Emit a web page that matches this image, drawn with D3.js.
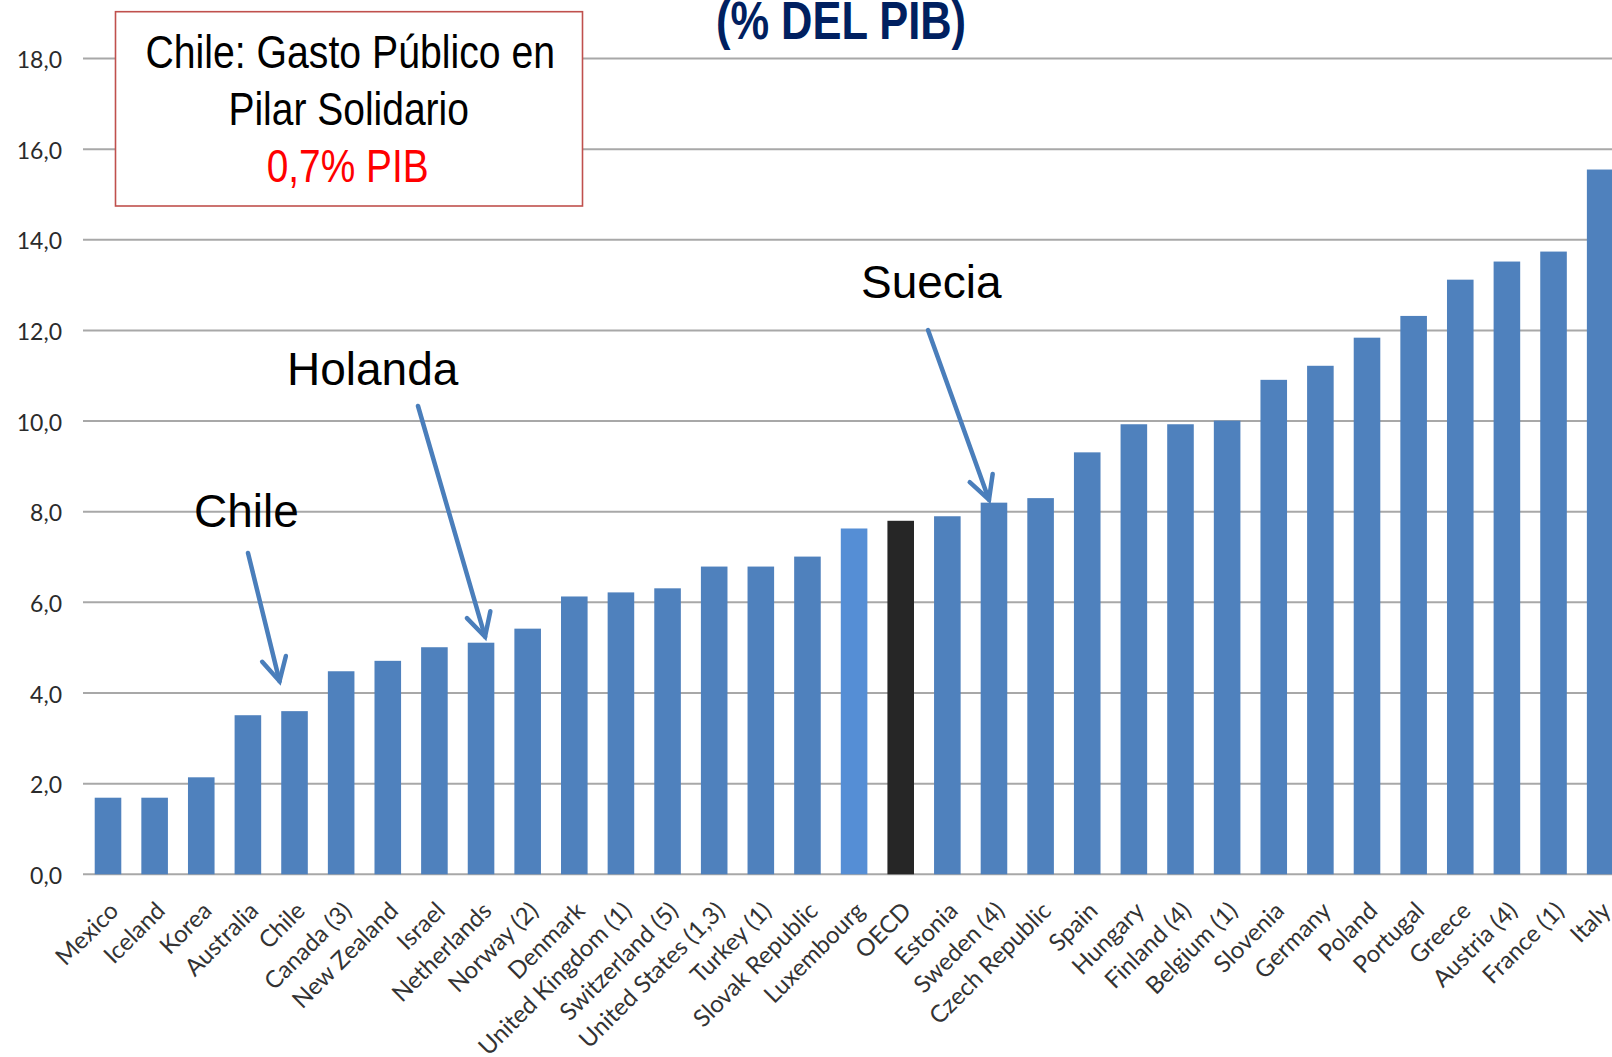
<!DOCTYPE html>
<html>
<head>
<meta charset="utf-8">
<script src="https://cdn.jsdelivr.net/npm/d3@7"></script>
<style>
  html, body { margin: 0; padding: 0; background: #ffffff; overflow: hidden; }
  svg { display: block; }
</style>
</head>
<body>
<svg id="chart" width="1612" height="1057"></svg>
<script>
// ---------------- DATA ----------------
const categories = [
  "Mexico", "Iceland", "Korea", "Australia", "Chile", "Canada (3)", "New Zealand",
  "Israel", "Netherlands", "Norway  (2)", "Denmark", "United Kingdom (1)",
  "Switzerland (5)", "United States (1,3)", "Turkey (1)", "Slovak Republic",
  "Luxembourg", "OECD", "Estonia", "Sweden (4)", "Czech Republic", "Spain",
  "Hungary", "Finland (4)", "Belgium (1)", "Slovenia", "Germany", "Poland",
  "Portugal", "Greece", "Austria (4)", "France (1)", "Italy"
];
const values = [
  1.69, 1.69, 2.14, 3.51, 3.60, 4.48, 4.71,
  5.01, 5.11, 5.42, 6.13, 6.22,
  6.31, 6.79, 6.79, 7.01,
  7.63, 7.80, 7.90, 8.20, 8.30, 9.31,
  9.93, 9.93, 10.01, 10.91, 11.22, 11.84,
  12.32, 13.12, 13.52, 13.74, 15.55
];
const yTicks = [0, 2, 4, 6, 8, 10, 12, 14, 16, 18];
const titleText = "(% DEL PIB)";
const boxLines = ["Chile: Gasto Público en", "Pilar Solidario", "0,7% PIB"];
const annotations = [
  { label: "Chile",   target: "Chile" },
  { label: "Holanda", target: "Netherlands" },
  { label: "Suecia",  target: "Sweden (4)" }
];
const lighterBar = "Luxembourg";
const darkBar = "OECD";

// ---------------- LAYOUT ----------------
const svg = d3.select("#chart");
const plotLeft = 83, plotRight = 1612;
const step = 46.63;
const firstCenter = 108;
const x0 = firstCenter - step / 2;

const x = d3.scaleBand()
  .domain(categories)
  .range([x0, x0 + step * categories.length])
  .paddingInner(0.43)
  .paddingOuter(0.215);

const y = d3.scaleLinear().domain([0, 18]).range([874.3, 58.5]);

const fmt = v => d3.format(".1f")(v).replace(".", ",");

// gridlines
svg.append("g").selectAll("line")
  .data(yTicks)
  .join("line")
  .attr("x1", plotLeft).attr("x2", plotRight)
  .attr("y1", d => y(d)).attr("y2", d => y(d))
  .attr("stroke", "#A8A8A8").attr("stroke-width", 2);

// y axis labels (via d3 axis, domain/ticks hidden)
const yAxis = svg.append("g")
  .attr("transform", `translate(${plotLeft - 21},0)`)
  .call(d3.axisLeft(y).tickValues(yTicks).tickFormat(fmt).tickSize(0).tickPadding(0));
yAxis.select(".domain").remove();
yAxis.selectAll("text")
  .attr("font-family", "Lato, 'Open Sans', sans-serif")
  .attr("font-size", 23)
  .attr("fill", "#2b2b2b")
  .attr("dy", "0.40em");

// bars
svg.append("g").selectAll("rect")
  .data(categories.map((c, i) => ({ c, v: values[i] })))
  .join("rect")
  .attr("x", d => x(d.c))
  .attr("width", x.bandwidth())
  .attr("y", d => y(d.v))
  .attr("height", d => y(0) - y(d.v))
  .attr("fill", d => d.c === darkBar ? "#262626" : (d.c === lighterBar ? "#558ED5" : "#4F81BD"));

// x axis labels
const xAxis = svg.append("g")
  .attr("transform", `translate(0,${y(0)})`)
  .call(d3.axisBottom(x).tickSize(0).tickPadding(0));
xAxis.select(".domain").remove();
xAxis.selectAll("text")
  .attr("font-family", "Lato, 'Open Sans', sans-serif")
  .attr("font-size", 24)
  .attr("fill", "#333333")
  .attr("text-anchor", "end")
  .attr("dy", null)
  .attr("y", 0)
  .attr("transform", "translate(12,38) rotate(-45)");

// title (partly cut off at the top)
svg.append("text")
  .attr("x", 716).attr("y", 39)
  .attr("font-family", "'Liberation Sans Narrow', 'Arial Narrow', 'Liberation Sans', Arial, sans-serif")
  .attr("font-weight", "bold")
  .attr("font-size", 53)
  .attr("fill", "#002060")
  .attr("textLength", 250)
  .attr("lengthAdjust", "spacingAndGlyphs")
  .text(titleText);

// info box
svg.append("rect")
  .attr("x", 115.5).attr("y", 11.7)
  .attr("width", 467).attr("height", 194.3)
  .attr("fill", "#ffffff")
  .attr("stroke", "#C0504D").attr("stroke-width", 1.6);

const boxSpecs = [
  { x: 145.5, y: 68, w: 409.5, color: "#000000" },
  { x: 228.4, y: 125, w: 240.5, color: "#000000" },
  { x: 266.7, y: 182, w: 162, color: "#FF0000" }
];
svg.append("g").selectAll("text")
  .data(boxLines)
  .join("text")
  .attr("x", (d, i) => boxSpecs[i].x)
  .attr("y", (d, i) => boxSpecs[i].y)
  .attr("font-family", "'Liberation Sans Narrow', 'Arial Narrow', 'Liberation Sans', Arial, sans-serif")
  .attr("font-size", 46)
  .attr("fill", (d, i) => boxSpecs[i].color)
  .attr("textLength", (d, i) => boxSpecs[i].w)
  .attr("lengthAdjust", "spacingAndGlyphs")
  .text(d => d);

// annotations with arrows
const annLayout = {
  "Chile":   { tx: 194, ty: 527, sx: 248, sy: 553, dx: -15, dy: -30 },
  "Holanda": { tx: 287, ty: 385, sx: 418, sy: 406, dx: 4,   dy: -6 },
  "Suecia":  { tx: 861, ty: 298, sx: 928, sy: 330, dx: -5,  dy: -3 }
};
const arrowColor = "#4A7EBB";
const annG = svg.append("g");
annotations.forEach(a => {
  const L = annLayout[a.label];
  const i = categories.indexOf(a.target);
  const tipX = x(a.target) + x.bandwidth() / 2 + L.dx;
  const tipY = y(values[i]) + L.dy;
  annG.append("text")
    .attr("x", L.tx).attr("y", L.ty)
    .attr("font-family", "'Liberation Sans', Arial, sans-serif")
    .attr("font-size", 46)
    .attr("fill", "#000000")
    .text(a.label);
  annG.append("line")
    .attr("x1", L.sx).attr("y1", L.sy)
    .attr("x2", tipX).attr("y2", tipY)
    .attr("stroke", arrowColor).attr("stroke-width", 4.5)
    .attr("stroke-linecap", "round");
  const ang = Math.atan2(L.sy - tipY, L.sx - tipX);
  const wl = 26, wa = 28 * Math.PI / 180;
  const w1 = [tipX + wl * Math.cos(ang - wa), tipY + wl * Math.sin(ang - wa)];
  const w2 = [tipX + wl * Math.cos(ang + wa), tipY + wl * Math.sin(ang + wa)];
  annG.append("path")
    .attr("d", `M${w1[0]},${w1[1]} L${tipX},${tipY} L${w2[0]},${w2[1]}`)
    .attr("fill", "none")
    .attr("stroke", arrowColor).attr("stroke-width", 4.5)
    .attr("stroke-linecap", "round").attr("stroke-linejoin", "miter");
});
</script>
</body>
</html>
